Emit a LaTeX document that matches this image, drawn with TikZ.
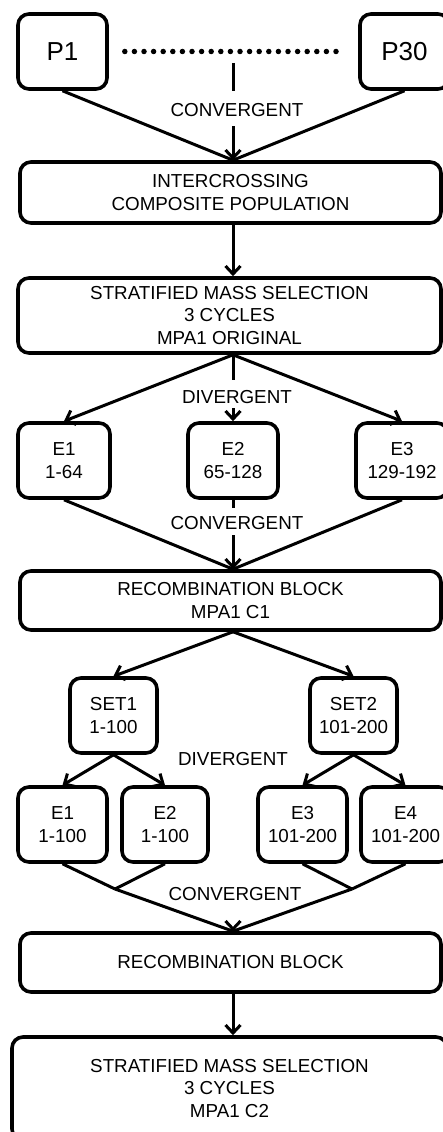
\documentclass[tikz,border=0pt]{standalone}
\usepackage{fontspec}
\setmainfont{Liberation Sans}
\usetikzlibrary{arrows.meta}
\begin{document}
\begin{tikzpicture}[x=1pt,y=-1pt,
  box/.style={draw, line width=3.6pt, rounded corners=11pt, align=center, inner sep=0pt,
    font=\fontsize{18.8}{22.5}\selectfont},
  conn/.style={line width=3pt},
  arr/.style={conn, -{Straight Barb[length=8pt,width=15pt,line width=3pt]}},
  lbl/.style={font=\fontsize{18.8}{22.5}\selectfont, inner sep=0pt}]
\useasboundingbox (0,0) rectangle (443,1132);
\clip (0,0) rectangle (443,1132);
\coordinate (ax) at (233,0);
% top
\node[box, minimum width=89pt, minimum height=75pt, font=\fontsize{26}{30}\selectfont] (p1) at (62.5,51.5) {P1};
\node[box, minimum width=89pt, minimum height=75pt, font=\fontsize{26}{30}\selectfont] (p30) at (404.5,51.5) {P30};
\draw[line width=5.5pt, line cap=round, dash pattern=on 0pt off 9.6pt, shorten <=16pt, shorten >=17pt] (p1.east) -- (p30.west);
\node[box, minimum width=421pt, minimum height=61pt] (inter) at (230.5,192.5) {INTERCROSSING\\COMPOSITE POPULATION};
\coordinate (c1a) at (233,63);
\coordinate (c1b) at (233,91);
\coordinate (c1c) at (233,126);
\node[lbl] (conv1) at (237,110) {CONVERGENT};
\coordinate (intop) at (ax |- inter.north);
\draw[conn] (c1a) -- (c1b);
\draw[arr] (c1c) -- (intop);
\draw[conn] (p1.south) -- (intop);
\draw[conn] (p30.south) -- (intop);
% stratified
\node[box, minimum width=423pt, minimum height=75pt] (strat) at (229.5,315.5) {STRATIFIED MASS SELECTION\\3 CYCLES\\MPA1 ORIGINAL};
\draw[arr] (ax |- inter.south) -- (ax |- strat.north);
\node[box, minimum width=92pt, minimum height=75pt] (e1) at (64,460.5) {E1\\1-64};
\node[box, minimum width=90pt, minimum height=75pt] (e2) at (233,460.5) {E2\\65-128};
\node[box, minimum width=92pt, minimum height=75pt] (e3) at (402,460.5) {E3\\129-192};
\coordinate (stbot) at (ax |- strat.south);
\coordinate (c2a) at (233,380);
\coordinate (c2b) at (233,408);
\node[lbl] (div1) at (237,397) {DIVERGENT};
\draw[conn] (stbot) -- (c2a);
\draw[arr] (c2b) -- (e2.north);
\draw[arr] (stbot) -- (e1.north);
\draw[arr] (stbot) -- (e3.north);
% recombination 1
\node[box, minimum width=421pt, minimum height=59pt] (rec1) at (230.5,600.5) {RECOMBINATION BLOCK\\MPA1 C1};
\coordinate (r1top) at (ax |- rec1.north);
\coordinate (c3a) at (233,508);
\coordinate (c3b) at (233,535);
\node[lbl] (conv2) at (237,523) {CONVERGENT};
\draw[conn] (e2.south) -- (c3a);
\draw[arr] (c3b) -- (r1top);
\draw[conn] (e1.south) -- (r1top);
\draw[conn] (e3.south) -- (r1top);
% sets
\node[box, minimum width=87pt, minimum height=75pt] (set1) at (113.5,715.5) {SET1\\1-100};
\node[box, minimum width=87pt, minimum height=75pt] (set2) at (353.5,715.5) {SET2\\101-200};
\coordinate (r1bot) at (ax |- rec1.south);
\draw[arr] (r1bot) -- (set1.north);
\draw[arr] (r1bot) -- (set2.north);
\node[lbl] (div2) at (233,759) {DIVERGENT};
\node[box, minimum width=89pt, minimum height=75pt] (f1) at (62.5,824.5) {E1\\1-100};
\node[box, minimum width=86pt, minimum height=75pt] (f2) at (165,824.5) {E2\\1-100};
\node[box, minimum width=89pt, minimum height=75pt] (f3) at (302.5,824.5) {E3\\101-200};
\node[box, minimum width=89pt, minimum height=75pt] (f4) at (405.5,824.5) {E4\\101-200};
\draw[arr] (set1.south) -- (f1.north);
\draw[arr] (set1.south) -- (f2.north);
\draw[arr] (set2.south) -- (f3.north);
\draw[arr] (set2.south) -- (f4.north);
% recombination 2
\node[box, minimum width=421pt, minimum height=59pt] (rec2) at (230.5,962.5) {RECOMBINATION BLOCK};
\coordinate (r2top) at (ax |- rec2.north);
\coordinate (jL) at (115,889);
\coordinate (jR) at (352,889);
\node[lbl] (conv3) at (235,894) {CONVERGENT};
\draw[conn] (f1.south) -- (jL);
\draw[conn] (f2.south) -- (jL);
\draw[conn] (f3.south) -- (jR);
\draw[conn] (f4.south) -- (jR);
\draw[conn] (jL) -- (r2top);
\draw[conn] (jR) -- (r2top);
\draw[arr] ([yshift=2pt]r2top) -- (r2top);
% final
\node[box, minimum width=435pt, minimum height=103pt] (fin) at (229.5,1088.5) {STRATIFIED MASS SELECTION\\3 CYCLES\\MPA1 C2};
\draw[arr] (ax |- rec2.south) -- (ax |- fin.north);
\end{tikzpicture}
\end{document}
